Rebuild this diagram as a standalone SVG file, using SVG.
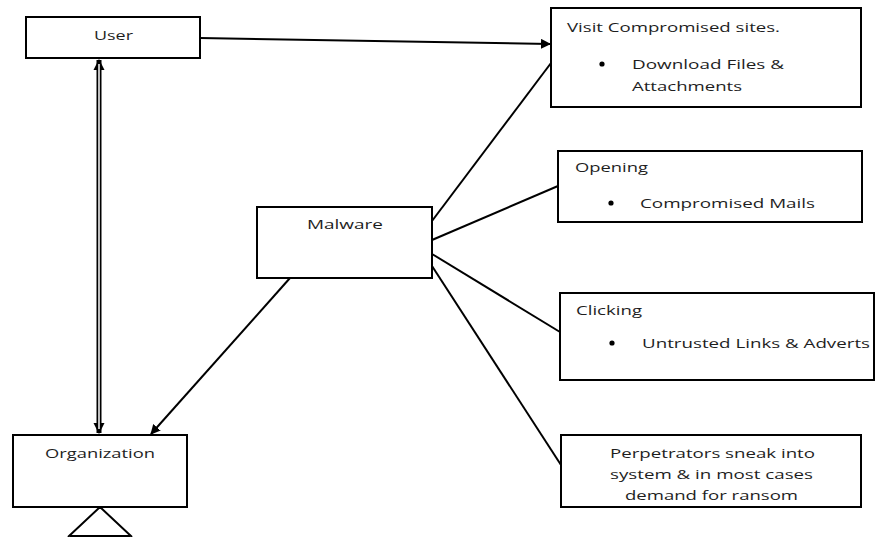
<svg xmlns="http://www.w3.org/2000/svg" width="876" height="537" viewBox="0 0 876 537">
<style>
.box{fill:#fff;stroke:#000;stroke-width:2}
.t{font-family:"Open Sans","Liberation Sans",sans-serif;font-size:13.5px;fill:#1e1e1e}
.c{stroke:#000;stroke-width:2;fill:none}
</style>
<defs>
<marker id="ah" viewBox="0 0 10 10" refX="9" refY="5" markerWidth="5" markerHeight="5" orient="auto" markerUnits="strokeWidth">
<path d="M0,0 L10,5 L0,10 z" fill="#000"/>
</marker>
<marker id="ah2" viewBox="0 0 10 10" refX="9" refY="5" markerWidth="2.2" markerHeight="2.6" orient="auto-start-reverse" markerUnits="strokeWidth">
<path d="M0,0 L10,5 L0,10 z" fill="#000"/>
</marker>
</defs>
<rect width="876" height="537" fill="#fff"/>
<g id="connectors">
<line class="c" x1="200" y1="38" x2="550" y2="44" marker-end="url(#ah)"/>
<line class="c" x1="290" y1="278" x2="151" y2="434" marker-end="url(#ah)"/>
<line class="c" x1="432" y1="221" x2="551" y2="63"/>
<line class="c" x1="432" y1="240" x2="558" y2="186"/>
<line class="c" x1="432" y1="254" x2="560" y2="332"/>
<line class="c" x1="432" y1="266" x2="561" y2="465"/>
<line x1="99" y1="60" x2="99" y2="433" stroke="#000" stroke-width="5" marker-start="url(#ah2)" marker-end="url(#ah2)"/>
<line x1="99" y1="64" x2="99" y2="429" stroke="#fff" stroke-width="1.5"/>
</g>
<g id="user">
<rect class="box" x="26" y="17" width="174" height="41"/>
<text class="t" x="94" y="40" textLength="39" lengthAdjust="spacingAndGlyphs">User</text>
</g>
<g id="visit">
<rect class="box" x="551" y="8" width="310" height="99"/>
<text class="t" x="567" y="31.5" textLength="213" lengthAdjust="spacingAndGlyphs">Visit Compromised sites.</text>
<circle cx="602" cy="64" r="2.6" fill="#000"/>
<text class="t" x="632" y="69" textLength="152" lengthAdjust="spacingAndGlyphs">Download Files &amp;</text>
<text class="t" x="632" y="91" textLength="110" lengthAdjust="spacingAndGlyphs">Attachments</text>
</g>
<g id="opening">
<rect class="box" x="558" y="151" width="304" height="71"/>
<text class="t" x="575" y="172" textLength="73" lengthAdjust="spacingAndGlyphs">Opening</text>
<circle cx="611" cy="203" r="2.6" fill="#000"/>
<text class="t" x="640" y="208" textLength="175" lengthAdjust="spacingAndGlyphs">Compromised Mails</text>
</g>
<g id="clicking">
<rect class="box" x="560" y="293" width="314" height="87"/>
<text class="t" x="576" y="315" textLength="66" lengthAdjust="spacingAndGlyphs">Clicking</text>
<circle cx="612" cy="343" r="2.6" fill="#000"/>
<text class="t" x="642" y="348" textLength="228" lengthAdjust="spacingAndGlyphs">Untrusted Links &amp; Adverts</text>
</g>
<g id="perpetrators">
<rect class="box" x="561" y="435" width="300" height="72"/>
<text class="t" x="610" y="458" textLength="205" lengthAdjust="spacingAndGlyphs">Perpetrators sneak into</text>
<text class="t" x="610" y="479" textLength="203" lengthAdjust="spacingAndGlyphs">system &amp; in most cases</text>
<text class="t" x="625" y="500" textLength="173" lengthAdjust="spacingAndGlyphs">demand for ransom</text>
</g>
<g id="malware">
<rect class="box" x="257" y="207" width="175" height="71"/>
<text class="t" x="307" y="229" textLength="76" lengthAdjust="spacingAndGlyphs">Malware</text>
</g>
<g id="organization">
<rect class="box" x="13" y="435" width="174" height="72"/>
<text class="t" x="45" y="458" textLength="110" lengthAdjust="spacingAndGlyphs">Organization</text>
<path d="M100,507 L68,537 M100,507 L132,537" stroke="#000" stroke-width="2" fill="none"/>
<line x1="70" y1="536" x2="130" y2="536" stroke="#000" stroke-width="2"/>
</g>
</svg>
